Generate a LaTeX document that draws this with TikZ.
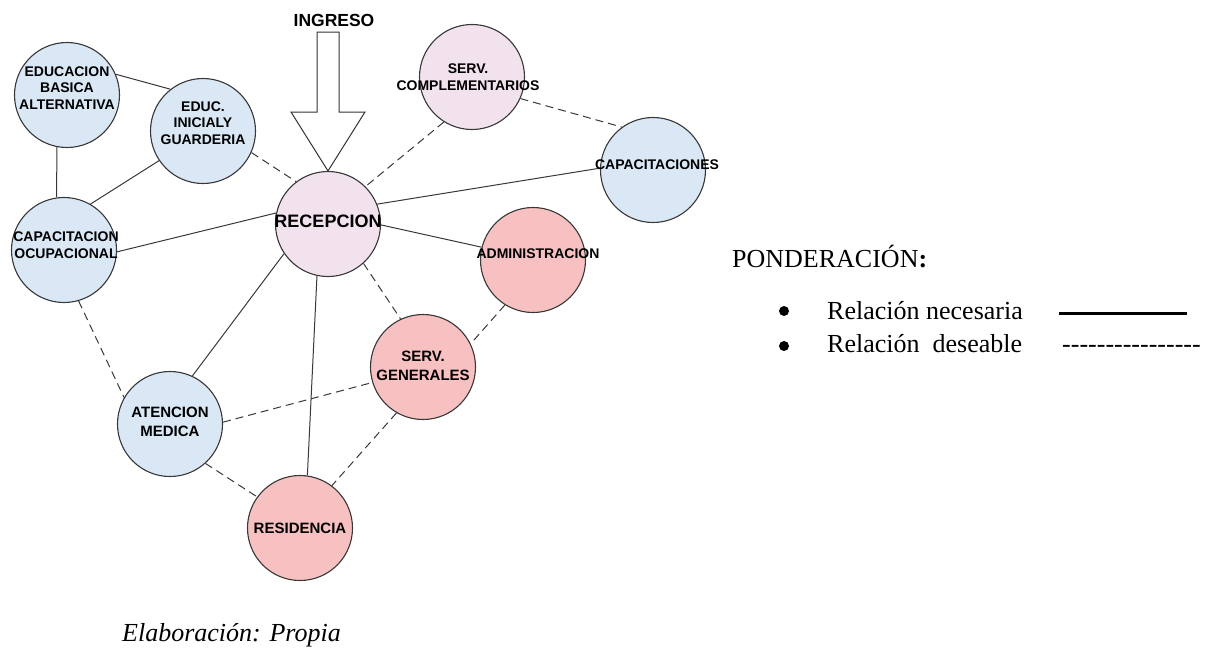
\documentclass[tikz,border=0pt]{standalone}
\usepackage{fontspec}
\setmainfont{Liberation Serif}
\setsansfont{Liberation Sans}
\usepackage{xcolor}
\definecolor{areablue}{RGB}{218,232,246}
\definecolor{areapink}{RGB}{242,226,238}
\definecolor{arearose}{RGB}{247,192,193}
\definecolor{edgegray}{RGB}{56,56,56}
\usetikzlibrary{positioning, backgrounds}
\newcommand\guion{-\kern0pt}

\begin{document}
\begin{tikzpicture}[x=1pt, y=-1pt,
	area/.style={circle, draw=black!78, line width=1.1pt, minimum size=105pt, inner sep=0pt},
	lbl/.style={font=\sffamily\bfseries\fontsize{14}{16.5}\selectfont, align=center, text=black},
	lblb/.style={font=\sffamily\bfseries\fontsize{15}{18.5}\selectfont, align=center, text=black},
	need/.style={draw=edgegray, line width=1pt},
	wish/.style={draw=edgegray, line width=1pt, dash pattern=on 8pt off 5pt},
	legend/.style={font=\fontsize{26}{30}\selectfont, anchor=base west, inner sep=0pt},
	bullet/.style={circle, fill=black, inner sep=0pt, minimum size=10pt}
	]
\useasboundingbox (0,0) rectangle (1212,648);

\node[area, fill=areablue, label={[lbl, yshift=7pt]center:{EDUCACION\\BASICA\\ALTERNATIVA}}] (eba) at (67,95) {};
\node[area, fill=areablue, label={[lbl, yshift=8pt]center:{EDUC.\\INICIALY\\GUARDERIA}}] (eig) at (203,131) {};
\node[area, fill=areablue, label={[lbl, yshift=5pt, xshift=2pt]center:{CAPACITACION\\OCUPACIONAL}}] (co) at (64,250) {};
\node[area, fill=areapink, label={[lbl, font=\sffamily\bfseries\fontsize{18}{20}\selectfont, yshift=3pt]center:{RECEPCION}}] (rec) at (328,224) {};
\node[area, fill=areapink, label={[lbl, xshift=-4pt]center:{SERV.\\COMPLEMENTARIOS}}] (sc) at (472,77) {};
\node[area, fill=areablue, label={[lbl, yshift=5pt, xshift=4pt]center:{CAPACITACIONES}}] (cap) at (653,170) {};
\node[area, fill=arearose, label={[lbl, yshift=6pt, xshift=5pt]center:{ADMINISTRACION}}] (adm) at (533,260) {};
\node[area, fill=arearose, label={[lblb, yshift=1pt]center:{SERV.\\GENERALES}}] (sg) at (423,367) {};
\node[area, fill=areablue, label={[lblb, yshift=2pt]center:{ATENCION\\MEDICA}}] (am) at (170,424) {};
\node[area, fill=arearose, label={[lblb]center:{RESIDENCIA}}] (res) at (300,528) {};

\begin{scope}[on background layer]
\draw[need] (eba.23) -- (eig.128);
\draw[need] (eba.259) -- (co.98);
\draw[need] (eig.214) -- (co.60);
\draw[need] (co.358) -- (rec.168);
\draw[need] (rec.22) -- (cap.178);
\draw[need] (rec.359) -- (adm.166);
\draw[need] (rec.214) -- (am.65);
\draw[need] (rec.258) -- (res.82);
\draw[wish] (eig.336) -- (rec.127);
\draw[wish] (sc.238) -- (rec.45);
\draw[wish] (sc.336) -- (cap.126);
\draw[wish] (rec.312) -- (sg.115);
\draw[wish] (adm.238) -- (sg.26);
\draw[wish] (co.286) -- (am.150);
\draw[wish] (am.2) -- (sg.197);
\draw[wish] (am.312) -- (res.144);
\draw[wish] (sg.240) -- (res.53);
\end{scope}

\node[font=\sffamily\bfseries\fontsize{17.5}{20}\selectfont] (ingreso) at (334,20) {INGRESO};
\draw[line width=1pt, draw=black!80, fill=white] (317,32) -- (339,32) -- (339,112) -- (365,112) -- (rec.north) -- (291,112) -- (317,112) -- cycle;

\node[legend] (pond) at (732,267) {PONDERACIÓN\textbf{:}};
\node[bullet] (bul1) at (784,311) {};
\node[legend] (necesaria) at (827,319) {Relación necesaria};
\node[bullet] (bul2) at (784,346) {};
\node[legend] (deseable) at (827,352) {Relación\ \ deseable};
\coordinate (n1) at (1059,313);
\coordinate (n2) at (1187,313);
\draw[line width=3pt] (n1) -- (n2);
\node[legend] (guiones) at (1062,352) {\guion\guion\guion\guion\guion\guion\guion\guion\guion\guion\guion\guion\guion\guion\guion\guion};

\node[legend, font=\itshape\fontsize{26}{30}\selectfont] (fuente) at (122,641) {Elaboración: Propia};
\end{tikzpicture}
\end{document}
